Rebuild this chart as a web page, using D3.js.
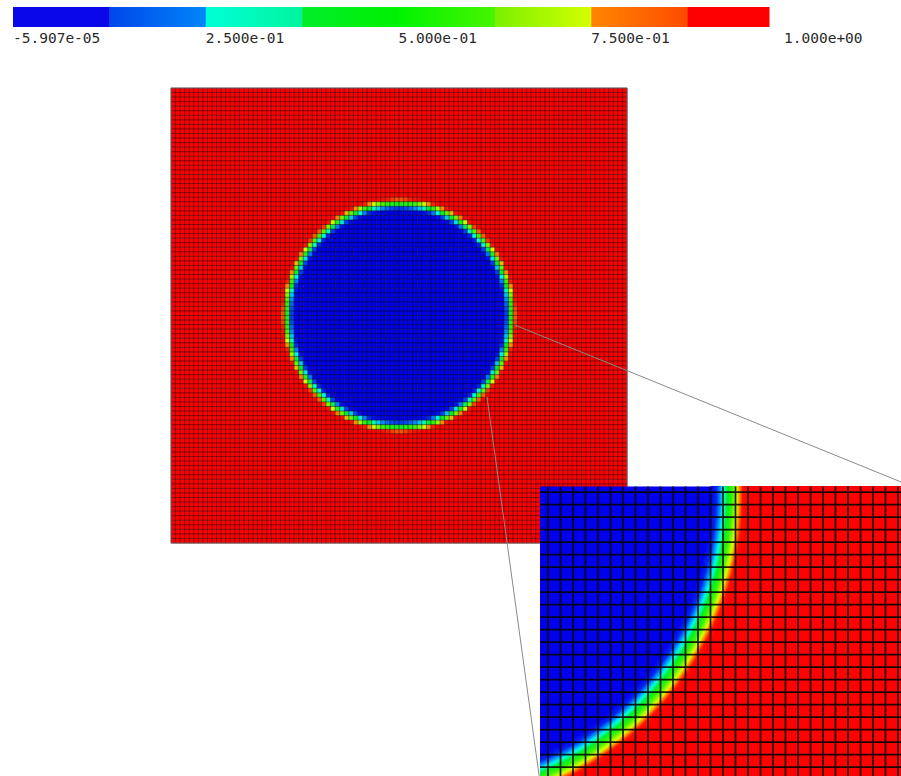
<!DOCTYPE html>
<html>
<head>
<meta charset="utf-8">
<script src="https://cdn.jsdelivr.net/npm/d3@7"></script>
<style>
  html, body { margin: 0; padding: 0; background: #fff; }
  svg { display: block; }
</style>
</head>
<body>
<svg id="chart" width="901" height="776"></svg>
<script>
// ---- Colour legend --------------------------------------------------------
const legendTickValues = [-5.907e-05, 0.25, 0.5, 0.75, 1.0];
const legendTickLabels = ["-5.907e-05", "2.500e-01", "5.000e-01", "7.500e-01", "1.000e+00"];
// eight bands, each with a start and end colour
const legendBandStart = ["#0808e8", "#0046ea", "#00ffd8", "#00ee2c", "#00f400", "#7af000", "#ff8600", "#ff0000"];
const legendBandEnd   = ["#0808e8", "#0086fa", "#00f49c", "#00f000", "#48f400", "#d4ff00", "#ff4a00", "#ff0000"];

// ---- Field colour map (volume fraction) ------------------------------------
const fieldStops  = [0.0, 0.1, 0.22, 0.32, 0.42, 0.55, 0.70, 0.78, 0.88, 1.0];
const fieldColors = ["#0000ec", "#0028f0", "#0098ff", "#00ffe0", "#00f030", "#3cf400", "#d8ff00", "#ff8c00", "#ff1400", "#ff0000"];

// ---- Mesh and droplet -----------------------------------------------------
const meshCells = 100;              // cells per side
const dropCenter = [50, 50];        // cell units
const dropRadius = 24.6;            // cell units
// volume fraction across the interface vs signed distance (cells)
const profileDistance = [-1.6, -1.1, -0.65, 0.0, 0.6, 1.05, 1.5];
const profileFraction = [0.0, 0.10, 0.28, 0.50, 0.72, 0.90, 1.0];

// ---- Magnified window and call-out ----------------------------------------
const zoomWindowX = [59.36, 89.1];  // cell units
const zoomWindowY = [49.54, 73.2];
const calloutAnchors = [[75.4, 52.1], [69.3, 67.9]]; // points on the interface

// ---------------------------------------------------------------------------
const svg = d3.select("#chart");
const W = 901, H = 776;
svg.append("rect").attr("width", W).attr("height", H).attr("fill", "#fff");

const colour = d3.scaleLinear().domain(fieldStops).range(fieldColors).clamp(true);
const profile = d3.scaleLinear().domain(profileDistance).range(profileFraction).clamp(true);
function fraction(u, v) {
  const r = Math.hypot(u - dropCenter[0], v - dropCenter[1]);
  return profile(r - dropRadius);
}

// ---- Legend ---------------------------------------------------------------
const legendX = d3.scaleLinear().domain([0, 1]).range([13, 784]);
const legendEnd = 769, legendTop = 7, legendH = 20;
const defs = svg.append("defs");
const nb = legendBandStart.length;
legendBandStart.forEach((c0, i) => {
  const g = defs.append("linearGradient").attr("id", "band" + i)
    .attr("x1", "0%").attr("x2", "100%").attr("y1", "0%").attr("y2", "0%");
  g.append("stop").attr("offset", "0%").attr("stop-color", c0);
  g.append("stop").attr("offset", "100%").attr("stop-color", legendBandEnd[i]);
});
svg.append("g").selectAll("rect")
  .data(d3.range(nb))
  .join("rect")
  .attr("x", i => legendX(i / nb))
  .attr("y", legendTop)
  .attr("width", i => Math.min(legendX((i + 1) / nb), legendEnd) - legendX(i / nb) + 0.5)
  .attr("height", legendH)
  .attr("fill", i => `url(#band${i})`);

svg.append("g").selectAll("text")
  .data(legendTickValues)
  .join("text")
  .attr("x", (d) => legendX(Math.max(d, 0)))
  .attr("y", 43)
  .attr("font-family", "'DejaVu Sans Mono', monospace")
  .attr("font-size", 14.5)
  .attr("fill", "#2a2a2a")
  .text((d, i) => legendTickLabels[i]);

// ---- Full mesh ------------------------------------------------------------
const mx = d3.scaleLinear().domain([0, meshCells]).range([171, 627]);
const my = d3.scaleLinear().domain([0, meshCells]).range([88, 543]);

const cells = [];
for (let j = 0; j < meshCells; j++) {
  for (let i = 0; i < meshCells; i++) {
    let s = 0;
    for (let a = 0; a < 3; a++) for (let b = 0; b < 3; b++)
      s += fraction(i + (a + 0.5) / 3, j + (b + 0.5) / 3);
    cells.push({ i, j, f: s / 9 });
  }
}
const mesh = svg.append("g");
mesh.selectAll("rect")
  .data(cells)
  .join("rect")
  .attr("x", d => mx(d.i))
  .attr("y", d => my(d.j))
  .attr("width", d => mx(d.i + 1) - mx(d.i) + 0.3)
  .attr("height", d => my(d.j + 1) - my(d.j) + 0.3)
  .attr("fill", d => colour(d.f));

const ticks = d3.range(0, meshCells + 1);
mesh.append("path")
  .attr("d", ticks.map(k => `M${mx(k)},${my(0)}V${my(meshCells)}M${mx(0)},${my(k)}H${mx(meshCells)}`).join(""))
  .attr("fill", "none")
  .attr("stroke", "#000")
  .attr("stroke-opacity", 0.46)
  .attr("stroke-width", 1);
mesh.append("rect")
  .attr("x", mx(0)).attr("y", my(0))
  .attr("width", mx(meshCells) - mx(0)).attr("height", my(meshCells) - my(0))
  .attr("fill", "none").attr("stroke", "#777").attr("stroke-width", 0.8);

// ---- Magnified window -----------------------------------------------------
const cellPx = 12.5;
const box = { x: 540, y: 486.3 };
box.w = (zoomWindowX[1] - zoomWindowX[0]) * cellPx;
box.h = (zoomWindowY[1] - zoomWindowY[0]) * cellPx;
const zx = d3.scaleLinear().domain(zoomWindowX).range([box.x, box.x + box.w]);
const zy = d3.scaleLinear().domain(zoomWindowY).range([box.y, box.y + box.h]);

// call-out lines from the interface to the window corners
const calloutTargets = [[box.x + box.w, box.y], [box.x, box.y + box.h]];
svg.append("g").selectAll("line")
  .data(calloutAnchors)
  .join("line")
  .attr("x1", d => mx(d[0])).attr("y1", d => my(d[1]))
  .attr("x2", (d, i) => calloutTargets[i][0]).attr("y2", (d, i) => calloutTargets[i][1])
  .attr("stroke", "#8a8a8a").attr("stroke-width", 1);

defs.append("clipPath").attr("id", "zoomClip")
  .append("rect").attr("x", box.x).attr("y", box.y).attr("width", box.w).attr("height", box.h);
const zoom = svg.append("g").attr("clip-path", "url(#zoomClip)");

zoom.append("rect")
  .attr("x", box.x).attr("y", box.y).attr("width", box.w).attr("height", box.h)
  .attr("fill", colour(0));

// smooth field: sampled finely and drawn as filled iso-bands
const sub = 8;
const nx = Math.ceil((zoomWindowX[1] - zoomWindowX[0]) * sub);
const ny = Math.ceil((zoomWindowY[1] - zoomWindowY[0]) * sub);
const samples = new Float64Array(nx * ny);
for (let j = 0; j < ny; j++)
  for (let i = 0; i < nx; i++)
    samples[j * nx + i] = fraction(zoomWindowX[0] + i / sub, zoomWindowY[0] + j / sub);
const levels = d3.range(1, 72).map(k => k / 72);
const bands = d3.contours().size([nx, ny]).thresholds(levels)(samples);
const project = d3.geoTransform({
  point(x, y) { this.stream.point(zx(zoomWindowX[0] + (x - 0.5) / sub), zy(zoomWindowY[0] + (y - 0.5) / sub)); }
});
const bandPath = d3.geoPath(project);
zoom.append("g").selectAll("path")
  .data(bands)
  .join("path")
  .attr("d", bandPath)
  .attr("fill", d => colour(d.value + 0.5 / 72))
  .attr("stroke", d => colour(d.value + 0.5 / 72))
  .attr("stroke-width", 0.4);

const zxTicks = d3.range(Math.ceil(zoomWindowX[0]), Math.floor(zoomWindowX[1]) + 1);
const zyTicks = d3.range(Math.ceil(zoomWindowY[0]), Math.floor(zoomWindowY[1]) + 1);
zoom.append("path")
  .attr("d",
    zxTicks.map(k => `M${zx(k)},${box.y}V${box.y + box.h}`).join("") +
    zyTicks.map(k => `M${box.x},${zy(k)}H${box.x + box.w}`).join(""))
  .attr("fill", "none")
  .attr("stroke", "#000")
  .attr("stroke-opacity", 0.88)
  .attr("stroke-width", 1.7);
</script>
</body>
</html>
